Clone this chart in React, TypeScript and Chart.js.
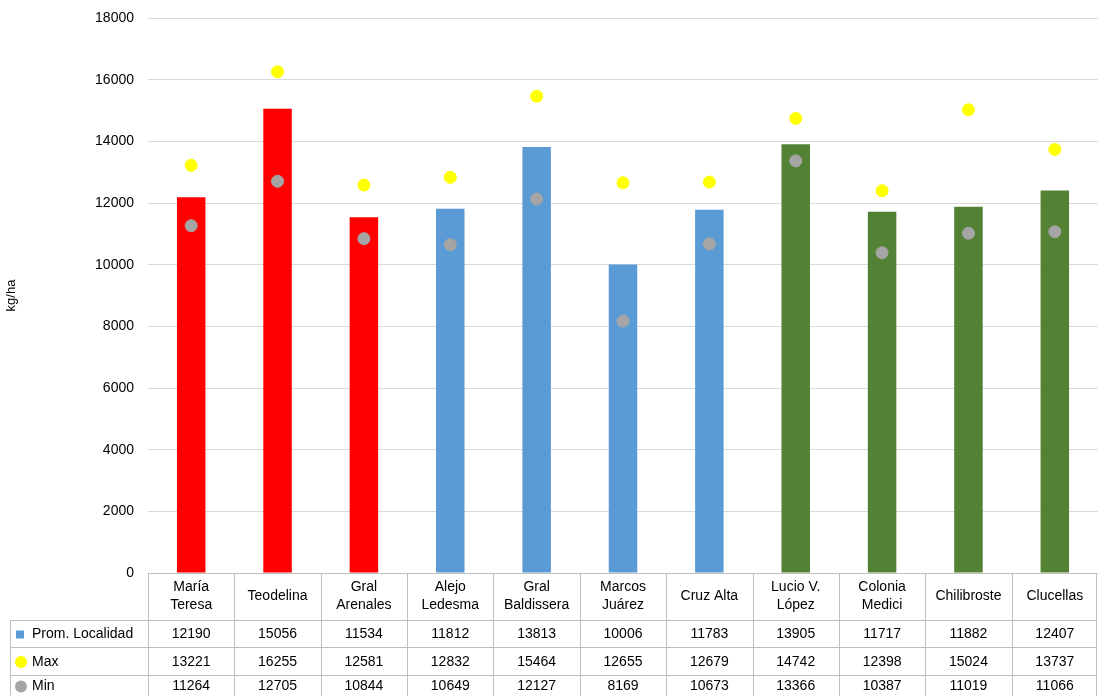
import { useEffect, useRef } from 'react';
import Chart from 'chart.js/auto';

const categories = [
  ['María', 'Teresa'], ['Teodelina'], ['Gral', 'Arenales'], ['Alejo', 'Ledesma'], ['Gral', 'Baldissera'],
  ['Marcos', 'Juárez'], ['Cruz Alta'], ['Lucio V.', 'López'], ['Colonia', 'Medici'], ['Chilibroste'], ['Clucellas'],
];
const promedio = [12190, 15056, 11534, 11812, 13813, 10006, 11783, 13905, 11717, 11882, 12407];
const maximo = [13221, 16255, 12581, 12832, 15464, 12655, 12679, 14742, 12398, 15024, 13737];
const minimo = [11264, 12705, 10844, 10649, 12127, 8169, 10673, 13366, 10387, 11019, 11066];
const barColors = ['#FF0000', '#FF0000', '#FF0000', '#5B9BD5', '#5B9BD5', '#5B9BD5', '#5B9BD5', '#548235', '#548235', '#548235', '#548235'];
const seriesNames = ['Prom. Localidad', 'Max', 'Min'];

const FONT = '"Liberation Sans", Arial, sans-serif';

const tablePlugin = {
  id: 'dataTable',
  afterDraw(chart: any) {
    const { ctx, chartArea } = chart;
    const x = chart.scales.x;
    const top = chartArea.bottom;
    const rowLines = [top, 620, 647, 675, 696];
    const left = 10;
    const right = chartArea.right - 1;
    const step = (chartArea.right - chartArea.left) / categories.length;
    ctx.save();
    ctx.strokeStyle = '#BFBFBF';
    ctx.lineWidth = 1;
    rowLines.forEach((y, i) => {
      ctx.beginPath();
      ctx.moveTo(i === 0 ? chartArea.left : left, y + 0.5);
      ctx.lineTo(right, y + 0.5);
      ctx.stroke();
    });
    for (let i = 0; i <= categories.length; i++) {
      const vx = Math.min(Math.round(chartArea.left + i * step), right - 1) + 0.5;
      ctx.beginPath();
      ctx.moveTo(vx, top);
      ctx.lineTo(vx, 696);
      ctx.stroke();
    }
    ctx.beginPath();
    ctx.moveTo(left + 0.5, 620);
    ctx.lineTo(left + 0.5, 696);
    ctx.stroke();

    ctx.fillStyle = '#000';
    ctx.font = `14px ${FONT}`;
    ctx.textAlign = 'center';
    ctx.textBaseline = 'middle';
    categories.forEach((lines, i) => {
      const cx = x.getPixelForValue(i);
      const mid = (top + 620) / 2;
      lines.forEach((t, j) => {
        ctx.fillText(t, cx, mid + (j - (lines.length - 1) / 2) * 18);
      });
    });
    const rows = [promedio, maximo, minimo];
    rows.forEach((vals, r) => {
      const cy = (rowLines[r + 1] + rowLines[r + 2]) / 2 + 1;
      ctx.textAlign = 'center';
      ctx.fillStyle = '#000';
      vals.forEach((v, i) => ctx.fillText(String(v), x.getPixelForValue(i), cy));
      if (r === 0) {
        ctx.fillStyle = '#5B9BD5';
        ctx.fillRect(16, cy - 4, 8, 8);
      } else {
        ctx.fillStyle = r === 1 ? '#FFFF00' : '#A5A5A5';
        ctx.beginPath();
        ctx.arc(21, cy, 6, 0, Math.PI * 2);
        ctx.fill();
      }
      ctx.fillStyle = '#000';
      ctx.textAlign = 'left';
      ctx.fillText(seriesNames[r], 32, cy);
    });
    ctx.restore();
  },
};

export default function App() {
  const canvasRef = useRef<HTMLCanvasElement>(null);

  useEffect(() => {
    if (!canvasRef.current) return;
    document.body.style.margin = '0';
    const chart = new Chart(canvasRef.current, {
      type: 'bar',
      data: {
        labels: categories.map((c) => c.join(' ')),
        datasets: [
          {
            type: 'bar',
            label: seriesNames[0],
            data: promedio,
            backgroundColor: barColors,
            barPercentage: 0.33,
            categoryPercentage: 1,
            order: 3,
          },
          {
            type: 'line',
            label: seriesNames[1],
            data: maximo,
            showLine: false,
            pointRadius: 6,
            pointBackgroundColor: '#FFFF00',
            pointBorderColor: '#FFFF00',
            order: 1,
          },
          {
            type: 'line',
            label: seriesNames[2],
            data: minimo,
            showLine: false,
            pointRadius: 6,
            pointBackgroundColor: '#A5A5A5',
            pointBorderColor: '#A5A5A5',
            order: 2,
          },
        ] as any,
      },
      options: {
        animation: false,
        responsive: false,
        layout: { autoPadding: false, padding: { top: 18, right: 0, left: 0, bottom: 0 } },
        plugins: { legend: { display: false }, tooltip: { enabled: false } },
        scales: {
          x: {
            ticks: { display: false },
            grid: { display: false },
            border: { display: false },
            afterFit: (s: any) => { s.height = 696 - 573; s.paddingLeft = 0; s.paddingRight = 0; },
          },
          y: {
            min: 0,
            max: 18000,
            ticks: { stepSize: 2000, color: '#000', font: { family: FONT, size: 14 }, padding: 14, callback: (v: any) => String(v) },
            grid: { color: '#D9D9D9', drawTicks: false },
            border: { display: false },
            title: { display: true, text: 'kg/ha', color: '#000', font: { family: FONT, size: 13 } },
            afterFit: (s: any) => { s.width = 148; s.paddingTop = 0; s.paddingBottom = 0; },
          },
        },
      },
      plugins: [tablePlugin],
    });
    return () => chart.destroy();
  }, []);

  return <canvas ref={canvasRef} width={1098} height={696} style={{ display: 'block' }} />;
}
